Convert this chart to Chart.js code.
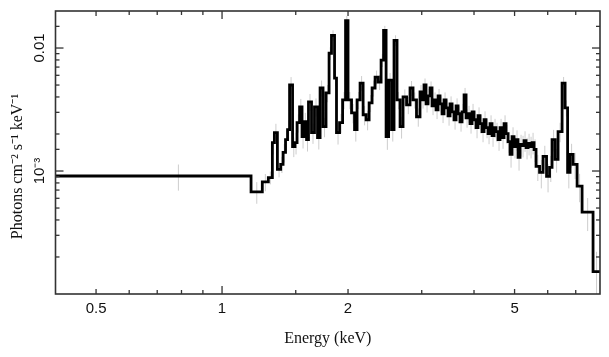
<!DOCTYPE html>
<html><head><meta charset="utf-8">
<script src="https://cdn.jsdelivr.net/npm/chart.js@4.4.1/dist/chart.umd.min.js"></script>
<style>html,body{margin:0;padding:0;background:#fff;}canvas{display:block;}</style>
</head><body>
<canvas id="c" width="609" height="357"></canvas>
<script>
// Energy bin lower edges (keV); last bin ends at binEnd
const binStart = [
  0.4, 1.173, 1.248, 1.290, 1.319, 1.334, 1.356, 1.381, 1.399, 1.418,
  1.434, 1.450, 1.474, 1.494, 1.511, 1.532, 1.553, 1.570, 1.592, 1.609,
  1.636, 1.663, 1.691, 1.715, 1.743, 1.772, 1.802, 1.826, 1.857, 1.877,
  1.909, 1.941, 1.973, 2.000, 2.039, 2.073, 2.102, 2.137, 2.173, 2.209,
  2.246, 2.283, 2.321, 2.360, 2.399, 2.432, 2.466, 2.500, 2.541, 2.576,
  2.619, 2.663, 2.707, 2.760, 2.813, 2.860, 2.915,
  2.972, 3.005, 3.038, 3.072, 3.106, 3.141, 3.175, 3.210, 3.246, 3.282,
  3.318, 3.355, 3.392, 3.430, 3.468, 3.506, 3.545, 3.584, 3.624, 3.664,
  3.704, 3.745, 3.787, 3.829, 3.871, 3.913, 3.957, 4.000, 4.045, 4.089,
  4.135, 4.180, 4.227, 4.273, 4.321, 4.369, 4.417, 4.466, 4.515, 4.565,
  4.616, 4.667, 4.719, 4.771, 4.824, 4.877, 4.931, 4.985, 5.040, 5.096,
  5.153, 5.210, 5.267, 5.326, 5.385, 5.445, 5.505, 5.566,
  5.627, 5.737, 5.848, 5.962, 6.061, 6.145, 6.248, 6.352, 6.494, 6.602,
  6.694, 6.785, 6.899, 7.053, 7.249, 7.700
];
const binEnd = 8.0;
// Photons cm^-2 s^-1 keV^-1
const flux = [
  0.000911, 0.000677, 0.000815, 0.000885, 0.001704, 0.002051, 0.001032, 0.001132, 0.001415, 0.0018,
  0.002169, 0.005003, 0.001582, 0.001704, 0.00247, 0.003325, 0.001905, 0.002516, 0.0018, 0.003648,
  0.002051, 0.003325, 0.00187, 0.004732, 0.002294, 0.004312, 0.009064, 0.01266, 0.0057, 0.002051,
  0.00247, 0.003787, 0.01673, 0.003787, 0.002975, 0.002169, 0.003787, 0.005192, 0.002867, 0.002612,
  0.003581, 0.004732, 0.005802, 0.00529, 0.007959, 0.01389, 0.001905, 0.005489, 0.002169, 0.01154,
  0.003787, 0.002294, 0.004004, 0.003451, 0.004732, 0.003787, 0.002761,
  0.004392, 0.003787, 0.005003, 0.003516, 0.004079, 0.004732, 0.003387, 0.003787, 0.003145, 0.004079,
  0.003516, 0.00292, 0.003787, 0.003264, 0.002814, 0.003516, 0.00303, 0.002612, 0.003387, 0.00292,
  0.002516, 0.00303, 0.004155, 0.002711, 0.00292, 0.002425, 0.00303, 0.002612, 0.002251, 0.002814,
  0.002425, 0.00209, 0.002612, 0.002251, 0.002014, 0.002425, 0.001941, 0.002251, 0.00209, 0.0018,
  0.002251, 0.00187, 0.002425, 0.002014, 0.001736, 0.001364, 0.001905, 0.001582, 0.0018, 0.00129,
  0.001642, 0.001612, 0.001768, 0.001553, 0.001673, 0.001582, 0.001704, 0.001496,
  0.001091, 0.000976, 0.001314, 0.000906, 0.001071, 0.0018, 0.001243, 0.00209, 0.005192, 0.003264,
  0.000976, 0.001364, 0.001132, 0.000753, 0.000464, 0.000152
];
// Relative 1-sigma error of each bin
const errFrac = [
  0.24, 0.2, 0.16, 0.12, 0.2, 0.18, 0.14, 0.15, 0.17, 0.18,
  0.19, 0.16, 0.18, 0.2, 0.17, 0.16, 0.2, 0.18, 0.2, 0.16,
  0.19, 0.17, 0.2, 0.15, 0.18, 0.16, 0.12, 0.1, 0.14, 0.2,
  0.18, 0.16, 0.09, 0.16, 0.18, 0.2, 0.16, 0.14, 0.18, 0.18,
  0.16, 0.15, 0.13, 0.14, 0.12, 0.09, 0.22, 0.14, 0.2, 0.1,
  0.16, 0.2, 0.15, 0.16, 0.14, 0.15, 0.17,
  0.14, 0.15, 0.13, 0.15, 0.14, 0.13, 0.16, 0.15, 0.16, 0.14,
  0.15, 0.16, 0.15, 0.16, 0.17, 0.15, 0.16, 0.17, 0.15, 0.16,
  0.17, 0.16, 0.14, 0.17, 0.16, 0.17, 0.16, 0.17, 0.18, 0.17,
  0.17, 0.18, 0.17, 0.18, 0.18, 0.17, 0.19, 0.18, 0.18, 0.19,
  0.18, 0.19, 0.17, 0.18, 0.19, 0.22, 0.19, 0.2, 0.19, 0.22,
  0.2, 0.2, 0.19, 0.2, 0.2, 0.2, 0.2, 0.21,
  0.24, 0.26, 0.22, 0.26, 0.24, 0.2, 0.22, 0.18, 0.12, 0.15,
  0.26, 0.22, 0.24, 0.26, 0.3, 0.45
];
const xRange = [0.4, 8];
const yRange = [1e-4, 0.02];
const xLabelValues = [0.5, 1, 2, 5];
const xLabelText = ['0.5', '1', '2', '5'];
const yLabelValues = [0.001, 0.01];
const yLabelText = ['10\u207B\u00B3', '0.01'];
const xTitle = 'Energy (keV)';
const yTitle = 'Photons cm\u207B\u00B2 s\u207B\u00B9 keV\u207B\u00B9';

function findLabel(v, vals, txt) {
  for (let i = 0; i < vals.length; i++) {
    if (Math.abs(v - vals[i]) / vals[i] < 1e-6) return txt[i];
  }
  return '';
}
function isDecade(v) {
  const l = Math.log10(v);
  return Math.abs(l - Math.round(l)) < 1e-6;
}

const stepData = binStart.map((e, i) => ({x: e, y: flux[i]}));
stepData.push({x: binEnd, y: flux[flux.length - 1]});

const errData = [];
binStart.forEach((e, i) => {
  const hiE = i + 1 < binStart.length ? binStart[i + 1] : binEnd;
  const mid = (e + hiE) / 2;
  const f = errFrac[i] || 0;
  errData.push({x: mid, y: flux[i] * (1 - f)});
  errData.push({x: mid, y: flux[i] * (1 + f)});
  errData.push({x: mid, y: null});
});

const frameTicks = {
  id: 'frameTicks',
  afterDraw(chart) {
    const {ctx, chartArea: a, scales: {x, y}} = chart;
    ctx.save();
    ctx.strokeStyle = '#333';
    ctx.lineWidth = 1.3;
    const seg = (x1, y1, x2, y2) => { ctx.beginPath(); ctx.moveTo(x1, y1); ctx.lineTo(x2, y2); ctx.stroke(); };
    x.ticks.forEach(t => {
      const px = x.getPixelForValue(t.value);
      if (px < a.left + 1 || px > a.right - 1) return;
      const L = isDecade(t.value) ? 8 : (findLabel(t.value, xLabelValues, xLabelText) ? 5 : 4);
      seg(px, a.bottom, px, a.bottom - L);
      seg(px, a.top, px, a.top + L);
    });
    y.ticks.forEach(t => {
      const py = y.getPixelForValue(t.value);
      if (py < a.top + 1 || py > a.bottom - 1) return;
      const L = isDecade(t.value) ? 8 : 4;
      seg(a.left, py, a.left + L, py);
      seg(a.right, py, a.right - L, py);
    });
    ctx.lineWidth = 1.6;
    ctx.strokeRect(a.left, a.top, a.right - a.left, a.bottom - a.top);
    ctx.restore();
  }
};

new Chart(document.getElementById('c'), {
  type: 'line',
  data: {
    datasets: [
      {data: stepData, stepped: 'before', borderColor: '#000', borderWidth: 2.8,
       pointRadius: 0, fill: false, tension: 0, order: 0},
      {data: errData, borderColor: '#cdcdcd', borderWidth: 1, pointRadius: 0,
       spanGaps: false, fill: false, tension: 0, order: 1}
    ]
  },
  options: {
    responsive: false,
    animation: false,
    devicePixelRatio: 1,
    layout: {padding: {top: 11, right: 9, left: 0, bottom: 0}},
    plugins: {legend: {display: false}, tooltip: {enabled: false}},
    scales: {
      x: {
        type: 'logarithmic', min: xRange[0], max: xRange[1], position: 'bottom',
        border: {display: false},
        grid: {display: false, drawTicks: false},
        ticks: {autoSkip: false, minRotation: 0, maxRotation: 0, padding: 6,
                color: '#111', font: {family: 'Liberation Sans', size: 15},
                callback: v => findLabel(v, xLabelValues, xLabelText)},
        title: {display: true, text: xTitle, color: '#111',
                font: {family: 'Liberation Serif', size: 16}, padding: {top: 0, bottom: 9}},
        afterFit: s => { s.height = 63; }
      },
      y: {
        type: 'logarithmic', min: yRange[0], max: yRange[1], position: 'left',
        border: {display: false},
        grid: {display: false, drawTicks: false},
        ticks: {autoSkip: false, minRotation: 90, maxRotation: 90, crossAlign: 'center', padding: 1,
                color: '#111', font: {family: 'Liberation Sans', size: 15},
                callback: v => findLabel(v, yLabelValues, yLabelText)},
        title: {display: true, text: yTitle + '       ', color: '#111',
                font: {family: 'Liberation Serif', size: 16}, padding: {top: 8, bottom: 0}},
        afterFit: s => { s.width = 55.5; }
      }
    }
  },
  plugins: [frameTicks]
});
</script>
</body></html>
